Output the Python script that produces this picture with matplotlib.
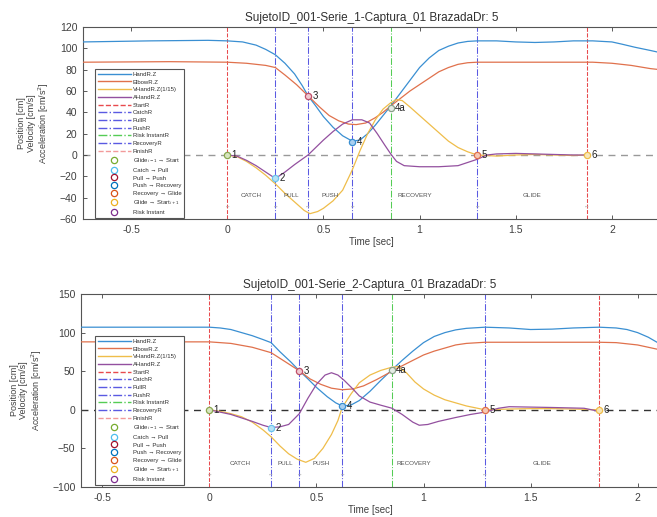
import matplotlib
matplotlib.use("Agg")
import matplotlib.pyplot as plt
from matplotlib.lines import Line2D
from matplotlib.ticker import FuncFormatter

plt.rcParams["font.family"] = ["Liberation Sans", "DejaVu Sans"]

# ======================
# + SERIE 1 (TOP PANEL) +
# ======================
top_title = "SujetoID_001-Serie_1-Captura_01 BrazadaDr: 5"

top_hand_t = [-0.75, -0.4, -0.1, 0.0, 0.08, 0.15, 0.2, 0.25, 0.3, 0.35, 0.39, 0.42,
              0.46, 0.5, 0.55, 0.6, 0.65, 0.69, 0.73, 0.77, 0.81, 0.85, 0.9, 0.95,
              1.0, 1.05, 1.1, 1.15, 1.2, 1.25, 1.3, 1.4, 1.5, 1.6, 1.7, 1.8, 1.9,
              2.0, 2.05, 2.12, 2.2, 2.25]
top_hand_z = [106, 107, 107.5, 107, 106, 103, 99, 94, 86, 76, 65, 55.5,
              46, 36, 26, 18, 13, 14, 20, 28, 37, 46, 58, 70,
              82, 91, 98, 102, 105, 106.5, 107, 107, 106, 105.5, 106, 107, 107,
              106, 104, 101, 98, 96]

top_elbow_t = [-0.75, -0.3, 0.0, 0.1, 0.2, 0.25, 0.3, 0.36, 0.42, 0.48, 0.53, 0.58,
               0.63, 0.67, 0.72, 0.77, 0.81, 0.85, 0.9, 0.95, 1.0, 1.05, 1.1, 1.15,
               1.2, 1.25, 1.3, 1.6, 1.9, 2.0, 2.1, 2.2, 2.25]
top_elbow_z = [87, 87.5, 87, 86, 84, 82, 75, 66, 55.5, 45, 37, 32,
               29, 28.5, 30, 35, 40, 46, 53, 60, 66, 72, 78, 82,
               85, 86.5, 87, 87, 87, 86, 84, 81, 80]

top_vhand_t = [0.0, 0.05, 0.1, 0.15, 0.2, 0.25, 0.3, 0.35, 0.4, 0.43, 0.47, 0.5,
               0.55, 0.6, 0.65, 0.69, 0.73, 0.77, 0.81, 0.85, 0.88, 0.91, 0.95,
               1.0, 1.05, 1.1, 1.15, 1.2, 1.25, 1.3, 1.4, 1.5, 1.6, 1.7, 1.8, 1.87]
top_vhand_z = [0, -1.5, -6, -12, -19, -27, -36, -44, -52, -55, -53, -50,
               -43, -33, -14, 4, 20, 33, 43, 49, 52, 51, 45,
               37, 29, 21, 13, 7, 3, 0, -1, 0, 0.5, 0, -0.5, 0]

top_ahand_t = [0.0, 0.05, 0.1, 0.15, 0.2, 0.25, 0.3, 0.35, 0.42, 0.5, 0.55, 0.6,
               0.65, 0.7, 0.74, 0.78, 0.82, 0.85, 0.88, 0.92, 1.0, 1.1, 1.2, 1.3,
               1.35, 1.4, 1.5, 1.6, 1.7, 1.8, 1.87]
top_ahand_z = [0, -1, -5, -10, -16, -22, -16, -9, 0, 14, 22, 29,
               33, 33, 30, 20, 9, 1, -6, -10, -11, -11, -10, -4,
               0, 1, 1.5, 1, 0.5, 0, 0]

# event instants: start, catch, pull, push, risk, recovery, finish
top_events = [0.0, 0.25, 0.42, 0.65, 0.85, 1.30, 1.87]
top_point_labels = ["1", "2", "3", "4", "4a", "5", "6"]
top_point_y = [0, -22, 55, 12, 44, 0, 0]

# ==========================
# + SERIE 2 (BOTTOM PANEL) +
# ==========================
bot_title = "SujetoID_001-Serie_2-Captura_01 BrazadaDr: 5"

bot_hand_t = [-0.6, -0.3, 0.0, 0.05, 0.1, 0.15, 0.2, 0.25, 0.288, 0.33, 0.38, 0.42,
              0.46, 0.5, 0.55, 0.59, 0.62, 0.66, 0.7, 0.75, 0.8, 0.853, 0.9, 0.95,
              1.0, 1.05, 1.1, 1.15, 1.2, 1.287, 1.4, 1.5, 1.6, 1.7, 1.82, 1.9,
              1.95, 2.0, 2.05, 2.1]
bot_hand_z = [107, 107, 107, 106, 104, 100, 96, 91, 87, 75, 62, 50.5,
              40, 29, 17, 9, 5, 6, 12, 24, 38, 52, 64, 76,
              87, 95, 100, 103.5, 105.5, 107, 106, 104, 104.5, 106, 107, 106,
              104, 100, 94, 86]

bot_elbow_t = [-0.6, 0.0, 0.1, 0.2, 0.288, 0.35, 0.42, 0.47, 0.52, 0.57, 0.62, 0.67,
               0.72, 0.78, 0.853, 0.9, 0.95, 1.0, 1.05, 1.1, 1.15, 1.2, 1.287, 1.5,
               1.82, 1.9, 2.0, 2.05, 2.1]
bot_elbow_z = [88, 88, 86, 81, 74, 63, 50.5, 40, 33, 28, 26, 27,
               31, 39, 50, 57, 64, 71, 76, 80, 84, 86, 87.5, 87.5,
               87.5, 87, 84, 81, 78]

bot_vhand_t = [0.0, 0.05, 0.1, 0.15, 0.2, 0.25, 0.288, 0.33, 0.37, 0.41, 0.45, 0.49,
               0.53, 0.57, 0.6, 0.62, 0.66, 0.7, 0.75, 0.8, 0.85, 0.88, 0.92, 0.96,
               1.0, 1.05, 1.1, 1.15, 1.2, 1.287, 1.4, 1.5, 1.6, 1.7, 1.82]
bot_vhand_z = [0, -2, -5, -9, -16, -26, -35, -47, -57, -64, -68, -63,
               -50, -32, -14, 3, 20, 35, 45, 51, 55, 56, 48, 36,
               27, 19, 13, 9, 5, 0, 1, 1.5, 1.5, 1, 0]

bot_ahand_t = [0.0, 0.1, 0.15, 0.2, 0.25, 0.288, 0.33, 0.37, 0.42, 0.46, 0.5, 0.54,
               0.57, 0.6, 0.63, 0.67, 0.7, 0.75, 0.8, 0.853, 0.9, 0.95, 0.98, 1.02,
               1.07, 1.15, 1.22, 1.287, 1.35, 1.4, 1.6, 1.75, 1.82]
bot_ahand_z = [0, -6, -10.5, -15, -20, -23, -22, -19, -5, 15, 33, 45,
               48, 45, 38, 27, 18, 10, 6, 2, -6, -16, -20, -19,
               -15, -10, -6, -3, 2, 4, 3, 2, -2]

bot_events = [0.0, 0.288, 0.42, 0.62, 0.853, 1.287, 1.82]
bot_point_labels = ["1", "2", "3", "4", "4a", "5", "6"]
bot_point_y = [0, -23, 50, 5, 52, 0, 0]

phase_names = ["CATCH", "PULL", "PUSH", "RECOVERY", "GLIDE"]

curve_names = ["HandR.Z", "ElbowR.Z", "VHandR.Z(1/15)", "AHandR.Z"]
curve_colors = ["#3a8fd2", "#e0714c", "#efbd4a", "#93509f"]

event_names = ["StartR", "CatchR", "PullR", "PushR", "Risk InstantR", "RecoveryR", "FinishR"]
event_colors = ["#e84a4d", "#5a5ae2", "#5a5ae2", "#5a5ae2", "#55cc55", "#5a5ae2", "#f29a9a"]
event_styles = ["--", "-.", "-.", "-.", "-.", "-.", "--"]

marker_names = ["Glide$_{i-1}$ \u2192 Start", "Catch \u2192 Pull", "Pull \u2192 Push",
                "Push \u2192 Recovery", "Recovery \u2192 Glide",
                "Glide \u2192 Start$_{i+1}$", "Risk Instant"]
marker_colors = ["#77AC30", "#4DBEEE", "#A2142F", "#0072BD", "#D95319", "#EDB120", "#7E2F8E"]
# colour of the marker drawn at each numbered point (1, 2, 3, 4, 4a, 5, 6)
point_colors = ["#8aa850", "#6cc4ee", "#c0506a", "#3a8fd2", "#8aa08a", "#e0714c", "#efbd4a"]
point_faces = ["#d8e6c0", "#b6e2f6", "#f0c8d0", "#a8cff0", "#e4ece4", "#f6c8b4", "#f8e6b8"]

grey = "#404040"


def draw_panel(ax, title, curves, events, pt_labels, pt_y, xlim, ylim, yticks, zero_color):
    ax.axhline(0, color=zero_color, linestyle="--", linewidth=1.0, dashes=(5, 4), zorder=1)

    # vertical event lines (second start line sits on top of the finish line)
    for k, t in enumerate(events):
        ax.axvline(t, color=event_colors[k], linestyle=event_styles[k], linewidth=0.75, zorder=2)
    ax.axvline(events[6], color=event_colors[0], linestyle="--", linewidth=0.75, zorder=2)

    for (t, z), c in zip(curves, curve_colors):
        ax.plot(t, z, color=c, linewidth=0.9, zorder=3)

    for k, (t, y, lab) in enumerate(zip(events, pt_y, pt_labels)):
        ax.plot(t, y, "o", ms=4.5, mfc=point_faces[k], mec=point_colors[k], mew=0.9, zorder=4)
        ax.annotate(lab, (t, y), xytext=(3, 0), textcoords="offset points",
                    fontsize=7, color="#202020", va="center", ha="left", zorder=5)

    # phase names between the event lines
    bounds = [events[0], events[1], events[2], events[3], events[5], events[6]]
    yl = ylim[0] + 0.12 * (ylim[1] - ylim[0])
    ya = ylim[0] + 0.07 * (ylim[1] - ylim[0])
    for k, name in enumerate(phase_names):
        ax.text((bounds[k] + bounds[k + 1]) / 2, yl, name, fontsize=4.5,
                color="#505050", ha="center", va="center")
    for b in bounds:
        ax.text(b, ya, "\u2194", fontsize=4, color="#b0b0b0", ha="center", va="center")

    ax.set_xlim(*xlim)
    ax.set_ylim(*ylim)
    ax.set_yticks(yticks)
    ax.set_xticks([-0.5, 0, 0.5, 1, 1.5, 2])
    ax.xaxis.set_major_formatter(FuncFormatter(lambda v, p: f"{v:g}"))
    ax.tick_params(direction="in", top=True, right=False, length=3, width=0.6,
                   labelsize=7.5, colors=grey, pad=4)
    for s in ax.spines.values():
        s.set_color("#555555")
        s.set_linewidth(0.8)
    ax.set_title(title, fontsize=8.5, color="#303030", pad=4)
    ax.set_xlabel("Time [sec]", fontsize=7, color=grey, labelpad=2)
    ax.set_ylabel("Position [cm]\nVelocity [cm/s]\nAcceleration [cm/s$^2$]",
                  fontsize=6.5, color=grey, labelpad=6, linespacing=1.1)

    handles = [Line2D([], [], color=c, linewidth=1.0) for c in curve_colors]
    handles += [Line2D([], [], color=c, linestyle=s, linewidth=1.0)
                for c, s in zip(event_colors, event_styles)]
    handles += [Line2D([], [], marker="o", linestyle="none", ms=4.5, mfc="none",
                       mec=c, mew=0.9) for c in marker_colors]
    labels = curve_names + event_names + marker_names
    return handles, labels


fig = plt.figure(figsize=(6.57, 5.17), dpi=100)
ax1 = fig.add_axes([83 / 657, 1 - 219 / 517, (660 - 83) / 657, (219 - 27) / 517])
ax2 = fig.add_axes([81 / 657, 1 - 487 / 517, (659 - 81) / 657, (487 - 294) / 517])

h, l = draw_panel(ax1, top_title,
                  [(top_hand_t, top_hand_z), (top_elbow_t, top_elbow_z),
                   (top_vhand_t, top_vhand_z), (top_ahand_t, top_ahand_z)],
                  top_events, top_point_labels, top_point_y,
                  (-0.75, 2.25), (-60, 120), range(-60, 121, 20), "#999999")
h2, l2 = draw_panel(ax2, bot_title,
                    [(bot_hand_t, bot_hand_z), (bot_elbow_t, bot_elbow_z),
                     (bot_vhand_t, bot_vhand_z), (bot_ahand_t, bot_ahand_z)],
                    bot_events, bot_point_labels, bot_point_y,
                    (-0.6, 2.1), (-100, 150), range(-100, 151, 50), "#333333")

for ax, hh, ll, top in [(ax1, h, l, 66), (ax2, h2, l2, 333)]:
    leg = ax.legend(hh, ll, loc="upper left", bbox_to_anchor=(92 / 657, 1 - top / 517),
                    bbox_transform=fig.transFigure, fontsize=4.3, labelspacing=0.42,
                    handlelength=5.5, handletextpad=0.4, borderpad=0.45,
                    fancybox=False, framealpha=1.0, edgecolor="#555555")
    leg.get_frame().set_linewidth(0.8)
    for t in leg.get_texts():
        t.set_color("#303030")

fig.savefig("out.png", dpi=100)
